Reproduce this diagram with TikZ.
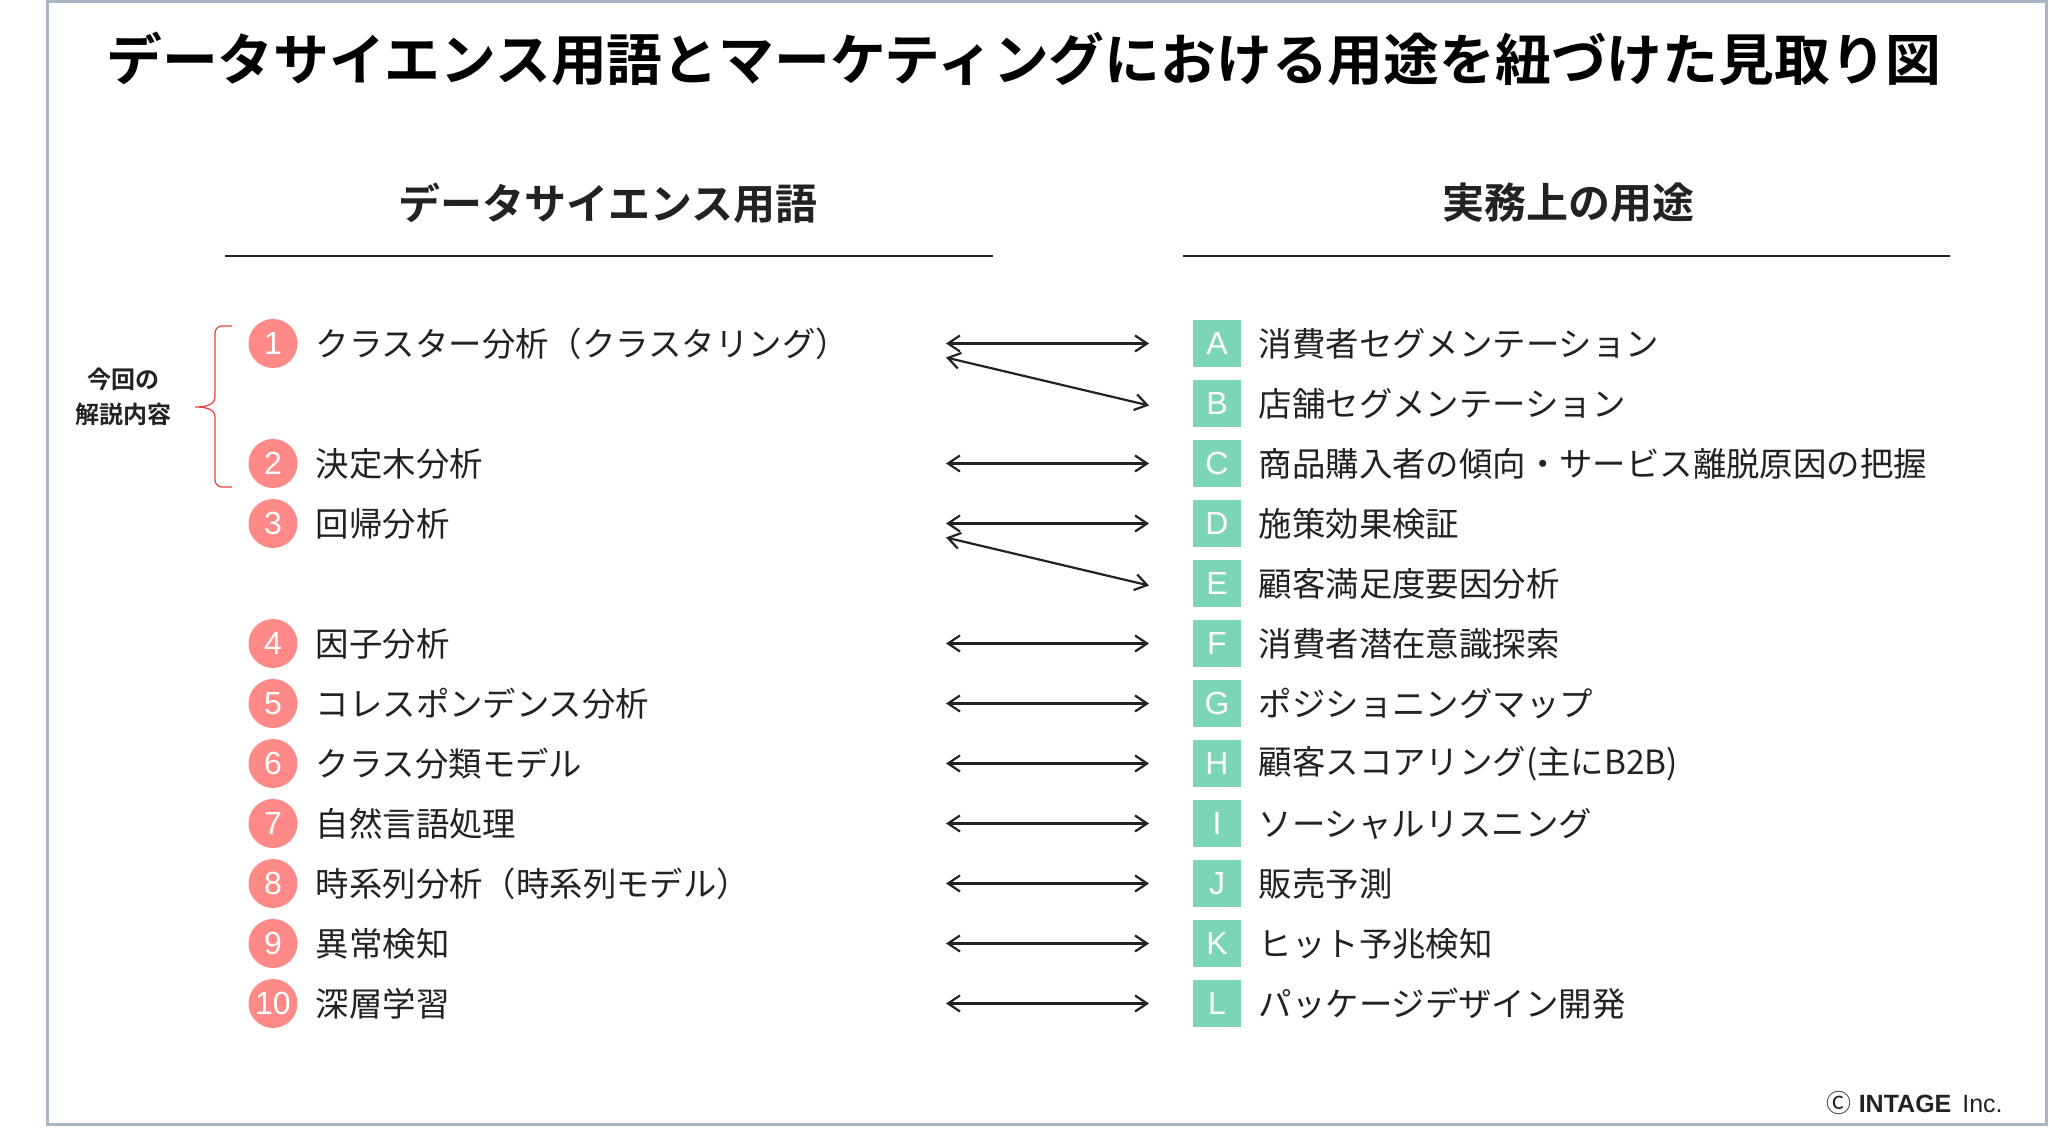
\documentclass[tikz,border=0pt]{standalone}
\usepackage{fontspec}
\usetikzlibrary{arrows.meta,positioning}
\newfontfamily\jp{Noto Sans CJK JP}[BoldFont={Noto Sans CJK JP Bold}]
\newfontfamily\lat{Liberation Sans}
\definecolor{frameblue}{RGB}{166,182,196}
\definecolor{salmon}{RGB}{255,137,135}
\definecolor{mint}{RGB}{125,213,184}
\definecolor{ink}{RGB}{34,34,34}
\definecolor{bracered}{RGB}{235,64,60}
\tikzset{
  numdot/.style={circle,fill=salmon,text=white,minimum size=24.5pt,inner sep=0pt,
    font=\lat\fontsize{16}{16}\selectfont},
  letbox/.style={rectangle,fill=mint,text=white,minimum width=24pt,minimum height=23.5pt,
    inner sep=0pt,font=\lat\fontsize{16}{16}\selectfont},
  item/.style={anchor=west,inner sep=0pt,text=ink,font=\jp\fontsize{16.7}{16.7}\selectfont},
  head/.style={text=ink,font=\jp\bfseries\fontsize{21}{21}\selectfont},
  link/.style={{Straight Barb[length=6pt,width=8pt]}-{Straight Barb[length=6pt,width=8pt]},
    line width=1.1pt,ink},
}
\begin{document}
\begin{tikzpicture}[x=0.5pt,y=-0.5pt]
  \useasboundingbox (0,0) rectangle (2049,1128);
  % Frame
  \draw[frameblue,line width=1.5pt] (47,2) rectangle (2046,1124);
  % Title
  \node[font=\jp\bfseries\fontsize{27.9}{27.9}\selectfont] (title) at (1024,59)
    {データサイエンス用語とマーケティングにおける用途を紐づけた見取り図};
  % Column headers and rules
  \node[head] (hleft) at (608,203) {データサイエンス用語};
  \node[head] (hright) at (1568,203) {実務上の用途};
  \draw[ink,line width=1.2pt] (225,256) -- (993,256);
  \draw[ink,line width=1.2pt] (1183,256) -- (1950,256);

  % Data science terms (left)
  \foreach \i/\r/\txt in {1/0/クラスター分析（クラスタリング）,2/2/決定木分析,3/3/回帰分析,
      4/5/因子分析,5/6/コレスポンデンス分析,6/7/クラス分類モデル,7/8/自然言語処理,
      8/9/時系列分析（時系列モデル）,9/10/異常検知,10/11/深層学習} {
    \node[numdot] (n\i) at (273,{343.5+60*\r}) {\i};
    \node[item,right=8.75pt of n\i] (t\i) {\txt};
  }
  % Practical uses (right)
  \foreach \c/\r/\txt in {A/0/消費者セグメンテーション,B/1/店舗セグメンテーション,
      C/2/商品購入者の傾向・サービス離脱原因の把握,D/3/施策効果検証,E/4/顧客満足度要因分析,
      F/5/消費者潜在意識探索,G/6/ポジショニングマップ,H/7/顧客スコアリング(主にB2B),
      I/8/ソーシャルリスニング,J/9/販売予測,K/10/ヒット予兆検知,L/11/パッケージデザイン開発} {
    \node[letbox] (b\c) at (1217,{343.5+60*\r}) {\c};
    \node[item,right=8.5pt of b\c] (u\c) {\txt};
    \coordinate (l\r) at (946,{343.5+60*\r});
    \coordinate (r\r) at (1149,{343.5+60*\r});
  }

  % Links
  \foreach \r in {0,2,3,5,6,7,8,9,10,11}
    \draw[link] (l\r) -- (r\r);
  \draw[link] ([yshift=-7pt]l0) -- ([yshift=-1pt]r1);
  \draw[link] ([yshift=-7pt]l3) -- ([yshift=-1pt]r4);

  % Bracket for this issue
  \draw[bracered,line width=0.6pt] (232,326) -- (222,326) to[out=180,in=90] (215,333)
    -- (215,397) to[out=-90,in=0] (195,407) to[out=0,in=90] (215,417)
    -- (215,480) to[out=-90,in=180] (222,487) -- (232,487);
  \node[align=center,text=ink,font=\jp\bfseries\fontsize{12}{17.5}\selectfont] (scope) at (123,397)
    {今回の\\解説内容};

  % Copyright
  \node[anchor=east,inner sep=0pt,text=ink,font=\lat\fontsize{12.5}{12.5}\selectfont] (copy) at (2003,1103)
    {{\jp Ⓒ} \textbf{INTAGE}\hspace{2pt} Inc.};
\end{tikzpicture}
\end{document}
